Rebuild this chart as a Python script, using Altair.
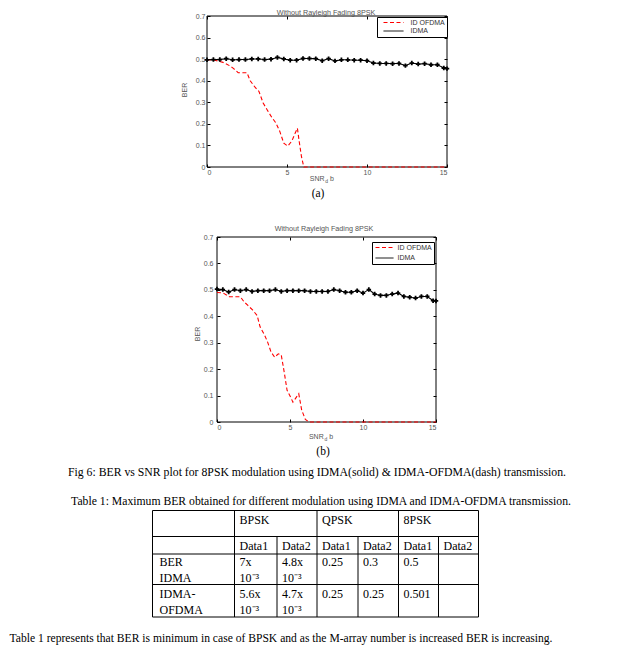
import altair as alt
import pandas as pd

SANS = "Liberation Sans"
SERIF = "Liberation Serif"
GRAY = "#555555"

# ---------------- data ----------------
SNR_IDMA = [0.0, 0.4, 0.8, 1.2, 1.6, 2.0, 2.4, 2.8, 3.2, 3.6, 4.0, 4.4, 4.8, 5.2, 5.6,
            6.0, 6.4, 6.8, 7.2, 7.6, 8.0, 8.4, 8.8, 9.2, 9.6, 10.0, 10.4, 10.8, 11.2,
            11.6, 12.0, 12.4, 12.8, 13.2, 13.6, 14.0, 14.4, 14.8, 15.0]
BER_IDMA_A = [0.497, 0.498, 0.498, 0.502, 0.497, 0.498, 0.498, 0.501, 0.501, 0.498,
              0.500, 0.508, 0.501, 0.495, 0.495, 0.503, 0.503, 0.502, 0.493, 0.502,
              0.492, 0.497, 0.497, 0.495, 0.495, 0.493, 0.482, 0.480, 0.480, 0.479,
              0.480, 0.470, 0.482, 0.477, 0.479, 0.474, 0.474, 0.459, 0.456]
SNR_OFDMA_A = [0.0, 0.5, 1.0, 1.4, 1.65, 1.95, 2.5, 2.7, 3.0, 3.25, 3.5, 3.8, 4.05,
               4.3, 4.55, 4.8, 5.05, 5.3, 5.5, 5.65, 5.75, 5.9, 6.05, 15.0]
BER_OFDMA_A = [0.497, 0.495, 0.485, 0.470, 0.457, 0.437, 0.437, 0.400, 0.370, 0.350,
               0.298, 0.260, 0.230, 0.205, 0.165, 0.110, 0.097, 0.120, 0.155, 0.180,
               0.125, 0.050, 0.0, 0.0]
BER_IDMA_B = [0.503, 0.501, 0.492, 0.501, 0.497, 0.501, 0.494, 0.497, 0.497, 0.497,
              0.501, 0.494, 0.497, 0.497, 0.497, 0.497, 0.494, 0.494, 0.494, 0.494,
              0.501, 0.497, 0.491, 0.491, 0.497, 0.488, 0.501, 0.484, 0.479, 0.479,
              0.484, 0.488, 0.475, 0.472, 0.469, 0.475, 0.475, 0.459, 0.458]
SNR_OFDMA_B = [0.0, 0.4, 0.85, 1.6, 1.85, 2.1, 2.45, 2.75, 2.95, 3.25, 3.45, 3.7, 3.95,
               4.2, 4.4, 4.6, 4.8, 5.05, 5.2, 5.45, 5.6, 5.8, 6.05, 6.3, 15.0]
BER_OFDMA_B = [0.490, 0.489, 0.474, 0.474, 0.455, 0.442, 0.423, 0.403, 0.360, 0.330,
               0.305, 0.265, 0.245, 0.258, 0.254, 0.190, 0.120, 0.093, 0.075, 0.095,
               0.107, 0.045, 0.010, 0.0, 0.0]

SERIES = ["ID OFDMA", "IDMA"]
X_DOMAIN = [0, 15]
Y_DOMAIN = [0, 0.7]
X_TICKS = [0, 5, 10, 15]
Y_TICKS = [0, 0.1, 0.2, 0.3, 0.4, 0.5, 0.6, 0.7]
CHART_TITLE = "Without Rayleigh Fading 8PSK"
Y_TITLE = "BER"
X_TITLE = ["SNR", "d", "b"]
PANEL_LABELS = ["(a)", "(b)"]
CAPTION = "Fig 6: BER vs SNR plot for 8PSK modulation using IDMA(solid) & IDMA-OFDMA(dash) transmission."
TABLE_TITLE = "Table 1: Maximum BER obtained for different modulation  using IDMA and IDMA-OFDMA transmission."
CLOSING = "Table 1 represents that BER is minimum in case of BPSK and as the M-array number is increased BER is increasing."
TABLE_GROUPS = ["BPSK", "QPSK", "8PSK"]
TABLE_SUBCOLS = ["Data1", "Data2", "Data1", "Data2", "Data1", "Data2"]
TABLE_ROW_LABELS = [["BER", "IDMA"], ["IDMA-", "OFDMA"]]
TABLE_VALUES = [
    [["7x", "10\u207b\u00b3"], ["4.8x", "10\u207b\u00b3"], ["0.25"], ["0.3"], ["0.5"], []],
    [["5.6x", "10\u207b\u00b3"], ["4.7x", "10\u207b\u00b3"], ["0.25"], ["0.25"], ["0.501"], []],
]

# ---------------- layout (pixels) ----------------
ORIGIN_X = 207          # page x of the shared column origin (= left edge of plot a)
GEOM = [
    dict(dx=0, w=240, h=151, top=-7, bottom=193.5, title_x=119, title_y=-3.5,
         ylab_pad=2, ber_x=-22, ber_y=74, snr_x=117.5, snr_y=162.7, lab_x=111, lab_y=178,
         leg_x=170, leg_y=1, leg_sym=400, leg_clip=8, leg_row=0.5, leg_soff=4.5, leg_loff=6.5),
    dict(dx=10, w=219, h=185, top=-27, bottom=222.5, title_x=107, title_y=-8.5,
         ylab_pad=4, ber_x=-19.5, ber_y=97, snr_x=106.7, snr_y=199.5, lab_x=106, lab_y=214.5,
         leg_x=155, leg_y=5, leg_sym=324, leg_clip=8, leg_row=2.5, leg_soff=1.5, leg_loff=3.5),
]


def txt(text, x, y, **kw):
    return alt.Chart(pd.DataFrame({"t": [text]})).mark_text(**kw).encode(
        text="t:N", x=alt.value(x), y=alt.value(y))


def build_chart(idma_ber, ofdma_snr, ofdma_ber, label, g):
    w, h, dx = g["w"], g["h"], g["dx"]
    df = pd.DataFrame({
        "snr": list(ofdma_snr) + list(SNR_IDMA),
        "ber": list(ofdma_ber) + list(idma_ber),
        "series": [SERIES[0]] * len(ofdma_snr) + [SERIES[1]] * len(SNR_IDMA),
    })
    xs = alt.Scale(domain=X_DOMAIN, range=[dx, dx + w], nice=False, zero=False)
    ys = alt.Scale(domain=Y_DOMAIN, nice=False, zero=False)
    common = dict(tickSize=3, tickColor="black", tickWidth=1, domain=False,
                  grid=False, labelFont=SANS, labelFontSize=7, labelColor=GRAY, title=None)
    x_axis = alt.Axis(values=X_TICKS, format="~g", orient="bottom", offset=-3, labelPadding=1, **common)
    y_axis = alt.Axis(values=Y_TICKS, format=".1~f", orient="left", offset=-3 - dx,
                      labelPadding=g["ylab_pad"], **common)
    legend = alt.Legend(
        title=None, orient="none", legendX=g["leg_x"] + dx, legendY=g["leg_y"],
        strokeColor="black", fillColor="white", padding=1.5, cornerRadius=0,
        symbolSize=g["leg_sym"], clipHeight=g["leg_clip"], rowPadding=g["leg_row"],
        symbolOffset=g["leg_soff"], labelOffset=g["leg_loff"], symbolStrokeWidth=1,
        symbolType="stroke", labelFont=SANS, labelFontSize=7, labelColor="#333333",
    )
    frame = alt.Chart(pd.DataFrame({"x0": [X_DOMAIN[0]], "x1": [X_DOMAIN[1]],
                                    "y0": [Y_DOMAIN[0]], "y1": [Y_DOMAIN[1]]})).mark_rect(
        fill="transparent", stroke="black", strokeWidth=1).encode(
        x=alt.X("x0:Q", scale=xs, axis=x_axis), x2="x1:Q",
        y=alt.Y("y0:Q", scale=ys, axis=y_axis), y2="y1:Q")
    lines = alt.Chart(df).mark_line(strokeWidth=1.1).encode(
        x=alt.X("snr:Q", scale=xs, axis=x_axis),
        y=alt.Y("ber:Q", scale=ys, axis=y_axis),
        color=alt.Color("series:N", scale=alt.Scale(domain=SERIES, range=["#ff0000", "#000000"]), legend=legend),
        strokeDash=alt.StrokeDash("series:N", scale=alt.Scale(domain=SERIES, range=[[4, 2.5], [1, 0]]), legend=legend),
    )
    pts = alt.Chart(df).transform_filter(alt.datum.series == SERIES[1]).mark_point(
        shape="cross", filled=True, size=20, color="black", opacity=1).encode(
        x=alt.X("snr:Q", scale=xs, axis=x_axis),
        y=alt.Y("ber:Q", scale=ys, axis=y_axis),
    )
    texts = [
        txt(CHART_TITLE, g["title_x"] + dx, g["title_y"], font=SANS, fontSize=7.2, color=GRAY,
            align="center", baseline="middle"),
        txt(Y_TITLE, g["ber_x"] + dx, g["ber_y"], font=SANS, fontSize=7, color=GRAY,
            align="center", baseline="middle", angle=270),
        txt(X_TITLE[0], g["snr_x"] + dx, g["snr_y"], font=SANS, fontSize=7, color=GRAY,
            align="right", baseline="middle"),
        txt(X_TITLE[1], g["snr_x"] + dx + 0.8, g["snr_y"] + 2.5, font=SANS, fontSize=5, color=GRAY,
            align="left", baseline="middle"),
        txt(X_TITLE[2], g["snr_x"] + dx + 5.5, g["snr_y"], font=SANS, fontSize=7, color=GRAY,
            align="left", baseline="middle"),
        txt(label, g["lab_x"] + dx, g["lab_y"], font=SERIF, fontSize=11.5, color="black",
            align="center", baseline="middle"),
        # invisible layout anchors (fix the vertical extent of this panel)
        txt(".", dx, g["top"], fontSize=1, opacity=0, align="left", baseline="top"),
        txt(".", dx, g["bottom"], fontSize=1, opacity=0, align="left", baseline="bottom"),
    ]
    main = alt.layer(frame, lines, pts, *texts)
    mirror = alt.Chart(df).mark_line(opacity=0).encode(
        x=alt.X("snr:Q", scale=xs, axis=alt.Axis(values=X_TICKS, orient="top", offset=-3,
                                                 labels=False, **common)),
        y=alt.Y("ber:Q", scale=ys, axis=alt.Axis(values=Y_TICKS, orient="right", offset=-3,
                                                 labels=False, **common)),
    )
    return alt.layer(main, mirror).resolve_axis(x="independent", y="independent").properties(
        width=w + dx, height=h)


chart_a = build_chart(BER_IDMA_A, SNR_OFDMA_A, BER_OFDMA_A, PANEL_LABELS[0], GEOM[0])
chart_b = build_chart(BER_IDMA_B, SNR_OFDMA_B, BER_OFDMA_B, PANEL_LABELS[1], GEOM[1])

# ---------------- table panel (page coordinates, shifted to the panel origin) ----------------
PANEL_TOP = 458
TW, TH = 380, 187
COL_EDGES = [152.5, 234.5, 277, 317, 358, 398.5, 438.5, 478.5]
ROW_EDGES = [508.5, 534.5, 552, 582.5, 615]
PAD_X = [7, 5]
LINE1 = [9.5, 9.5, 8, 9.5]
LINE_GAP = 15.5


def px(v):
    return v - ORIGIN_X


def py(v):
    return v - PANEL_TOP


rules = []
for yv in ROW_EDGES:
    rules.append(dict(x=px(COL_EDGES[0]), x2=px(COL_EDGES[-1]), y=py(yv), y2=py(yv)))
for i, xv in enumerate(COL_EDGES):
    top = ROW_EDGES[0] if i in (0, 1, 3, 5, 7) else ROW_EDGES[1]
    rules.append(dict(x=px(xv), x2=px(xv), y=py(top), y2=py(ROW_EDGES[-1])))
rules_df = pd.DataFrame(rules)

cells = []
for k, name in enumerate(TABLE_GROUPS):
    cells.append(dict(t=name, x=px(COL_EDGES[1 + 2 * k] + PAD_X[1]), y=py(ROW_EDGES[0] + LINE1[0])))
for k, name in enumerate(TABLE_SUBCOLS):
    cells.append(dict(t=name, x=px(COL_EDGES[1 + k] + PAD_X[1]), y=py(ROW_EDGES[1] + LINE1[1])))
for r, (lab, vals) in enumerate(zip(TABLE_ROW_LABELS, TABLE_VALUES)):
    top = ROW_EDGES[2 + r] + LINE1[2 + r]
    for j, s in enumerate(lab):
        cells.append(dict(t=s, x=px(COL_EDGES[0] + PAD_X[0]), y=py(top + j * LINE_GAP)))
    for c, v in enumerate(vals):
        for j, s in enumerate(v):
            cells.append(dict(t=s, x=px(COL_EDGES[1 + c] + PAD_X[1]), y=py(top + j * LINE_GAP)))
cells_df = pd.DataFrame(cells)

sx = alt.Scale(domain=[0, TW], nice=False, zero=False)
sy = alt.Scale(domain=[0, TH], nice=False, zero=False, reverse=True)

grid = alt.Chart(rules_df).mark_rule(color="black", strokeWidth=1).encode(
    x=alt.X("x:Q", scale=sx, axis=None), x2="x2:Q",
    y=alt.Y("y:Q", scale=sy, axis=None), y2="y2:Q")
cell_text = alt.Chart(cells_df).mark_text(align="left", baseline="middle", font=SERIF,
                                          fontSize=12, color="black").encode(
    x=alt.X("x:Q", scale=sx, axis=None), y=alt.Y("y:Q", scale=sy, axis=None), text="t:N")

table_panel = alt.layer(
    grid, cell_text,
    txt(CAPTION, px(317), py(470), font=SERIF, fontSize=11.75, color="black", align="center", baseline="middle"),
    txt(TABLE_TITLE, px(321), py(499), font=SERIF, fontSize=11.7, color="black", align="center", baseline="middle"),
    txt(CLOSING, px(9.5), py(637), font=SERIF, fontSize=11.6, color="black", align="left", baseline="middle"),
    txt(".", px(8), 0, fontSize=1, opacity=0, align="left", baseline="top"),
).properties(width=TW, height=TH)

lower = alt.vconcat(chart_b, table_panel, spacing=0).resolve_scale(
    color="independent", strokeDash="independent"
).resolve_legend(color="independent", strokeDash="independent")

page = alt.vconcat(chart_a, lower, spacing=0).resolve_scale(
    color="independent", strokeDash="independent"
).resolve_legend(
    color="independent", strokeDash="independent"
).properties(
    padding=0, background="white"
).configure_view(stroke="transparent", strokeWidth=0)

page.save("out.html", embed_options={"renderer": "svg", "actions": False})
